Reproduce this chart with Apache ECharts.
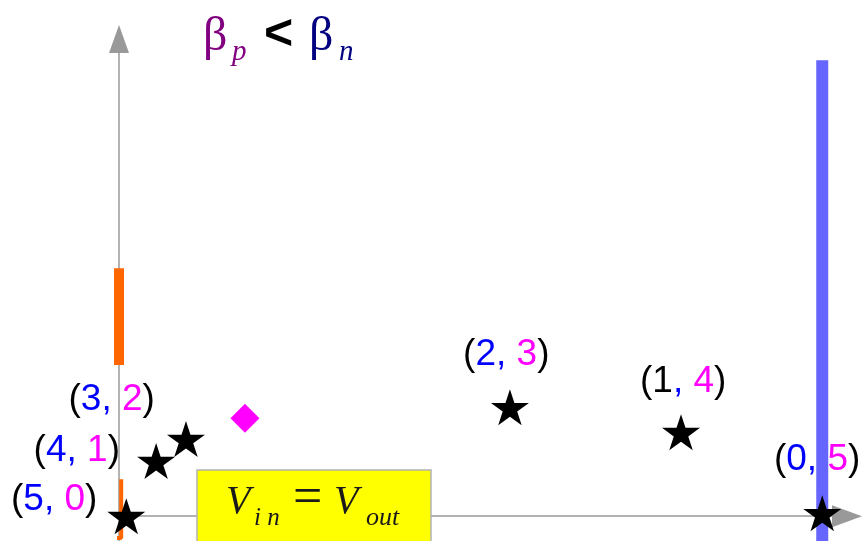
<!DOCTYPE html>
<html>
<head>
<meta charset="utf-8">
<script src="https://cdn.jsdelivr.net/npm/echarts@6/dist/echarts.min.js"></script>
<style>html,body{margin:0;padding:0;background:#fff}#c{width:863px;height:541px}</style>
</head>
<body>
<div id="c"></div>
<script>
// ---- data ----
const stateLabels = ['(5, 0)', '(4, 1)', '(3, 2)', '(2, 3)', '(1, 4)', '(0, 5)'];
const starX = [0.10, 0.51, 0.92, 5.37, 7.72, 9.66];
const starY = [0.00, 1.11, 1.55, 2.19, 1.69, 0.06];
const labelX = [-0.89, -0.58, -0.10, 5.32, 7.75, 9.59];
const labelY = [0.32, 1.31, 2.35, 3.24, 2.70, 1.13];
const diamondPt = [1.73, 1.97];
const orangeBar = [[0, 4.99], [0, 3.04]];
const orangeThin = [[0.03, 0.74], [0.03, -0.44], [-0.10, -0.44]];
const blueBar = [[9.66, 9.17], [9.66, -0.5]];

const STAR = 'path://M50,0 L61.2,34.5 L97.6,34.5 L68.2,55.9 L79.4,90.5 L50,69.1 L20.6,90.5 L31.8,55.9 L2.4,34.5 L38.8,34.5 Z';
const blackFirstDigit = { '1': true };

const chart = echarts.init(document.getElementById('c'), null, { renderer: 'canvas' });
const axisCommon = {
  type: 'value',
  axisTick: { show: false },
  axisLabel: { show: false },
  splitLine: { show: false },
};
const LF = 37;
chart.setOption({
  animation: false,
  grid: { left: 119, right: 16, top: 39, bottom: 0 },
  xAxis: Object.assign({}, axisCommon, {
    min: 0, max: 10,
    axisLine: { onZero: true, symbol: ['none', 'triangle'], symbolSize: [22, 30],
      lineStyle: { color: '#999999', width: 1.5 } }
  }),
  yAxis: Object.assign({}, axisCommon, {
    min: -0.5, max: 9.6,
    axisLine: { onZero: true, symbol: ['none', 'triangle'], symbolSize: [20, 28],
      lineStyle: { color: '#999999', width: 1.5 } }
  }),
  series: [
    { type: 'line', data: orangeBar, symbol: 'none', clip: false,
      lineStyle: { color: '#FF6600', width: 10, cap: 'butt' }, z: 3 },
    { type: 'line', data: orangeThin, symbol: 'none', clip: false,
      lineStyle: { color: '#FF6600', width: 4, cap: 'butt' }, z: 3 },
    { type: 'line', data: blueBar, symbol: 'none', clip: false,
      lineStyle: { color: '#6666FF', width: 12, cap: 'butt' }, z: 3 },
    { type: 'scatter', data: [diamondPt], symbol: 'diamond', symbolSize: [29, 29], clip: false,
      itemStyle: { color: '#FF00FF', opacity: 1 }, z: 4 },
    { type: 'scatter', data: starX.map((x, i) => [x, starY[i]]), symbol: STAR, symbolSize: [38, 36],
      clip: false, itemStyle: { color: '#000', opacity: 1 }, z: 5 },
    { type: 'scatter', data: labelX.map((x, i) => [x, labelY[i]]), symbolSize: 1, clip: false,
      itemStyle: { color: 'rgba(0,0,0,0)', opacity: 1 }, z: 6,
      label: {
        show: true, position: 'inside', opacity: 1,
        fontFamily: 'Liberation Sans', fontSize: LF,
        formatter: p => {
          const s = stateLabels[p.dataIndex];
          const m = s.match(/\((\d),\s*(\d)\)/);
          const k = blackFirstDigit[m[1]] ? 'k' : 'a';
          return '{k|(}{' + k + '|' + m[1] + '}{a|, }{b|' + m[2] + '}{k|)}';
        },
        rich: {
          k: { color: '#000', fontSize: LF, fontFamily: 'Liberation Sans' },
          a: { color: '#0000FF', fontSize: LF, fontFamily: 'Liberation Sans' },
          b: { color: '#FF00FF', fontSize: LF, fontFamily: 'Liberation Sans' }
        }
      }
    }
  ],
  graphic: [
    { type: 'rect', z: 100, shape: { x: 197, y: 470, width: 234, height: 80 },
      style: { fill: '#FFFF00', stroke: '#b3b3b3', lineWidth: 1.5 } },
    { type: 'text', z: 101, x: 226, y: 502, style: { text: 'V', font: 'italic 40px "Liberation Serif"', fill: '#1a1a1a', verticalAlign: 'middle' } },
    { type: 'text', z: 101, x: 254, y: 518, style: { text: 'i n', font: 'italic 25px "Liberation Serif"', fill: '#1a1a1a', verticalAlign: 'middle' } },
    { type: 'text', z: 101, x: 293, y: 499, style: { text: '=', font: '52px "Liberation Serif"', fill: '#1a1a1a', verticalAlign: 'middle' } },
    { type: 'text', z: 101, x: 334, y: 502, style: { text: 'V', font: 'italic 40px "Liberation Serif"', fill: '#1a1a1a', verticalAlign: 'middle' } },
    { type: 'text', z: 101, x: 366, y: 518, style: { text: 'out', font: 'italic 26px "Liberation Serif"', fill: '#1a1a1a', verticalAlign: 'middle' } },

    { type: 'text', z: 101, x: 203, y: 37, style: { text: 'β', font: '48px "Liberation Serif"', fill: '#800080', verticalAlign: 'middle' } },
    { type: 'text', z: 101, x: 232, y: 52, style: { text: 'p', font: 'italic 29px "Liberation Serif"', fill: '#800080', verticalAlign: 'middle' } },
    { type: 'text', z: 101, x: 264, y: 35, style: { text: '<', font: 'bold 50px "Liberation Sans"', fill: '#000', verticalAlign: 'middle' } },
    { type: 'text', z: 101, x: 309, y: 37, style: { text: 'β', font: '48px "Liberation Serif"', fill: '#000080', verticalAlign: 'middle' } },
    { type: 'text', z: 101, x: 339, y: 52, style: { text: 'n', font: 'italic 29px "Liberation Serif"', fill: '#000080', verticalAlign: 'middle' } }
  ]
});
</script>
</body>
</html>
